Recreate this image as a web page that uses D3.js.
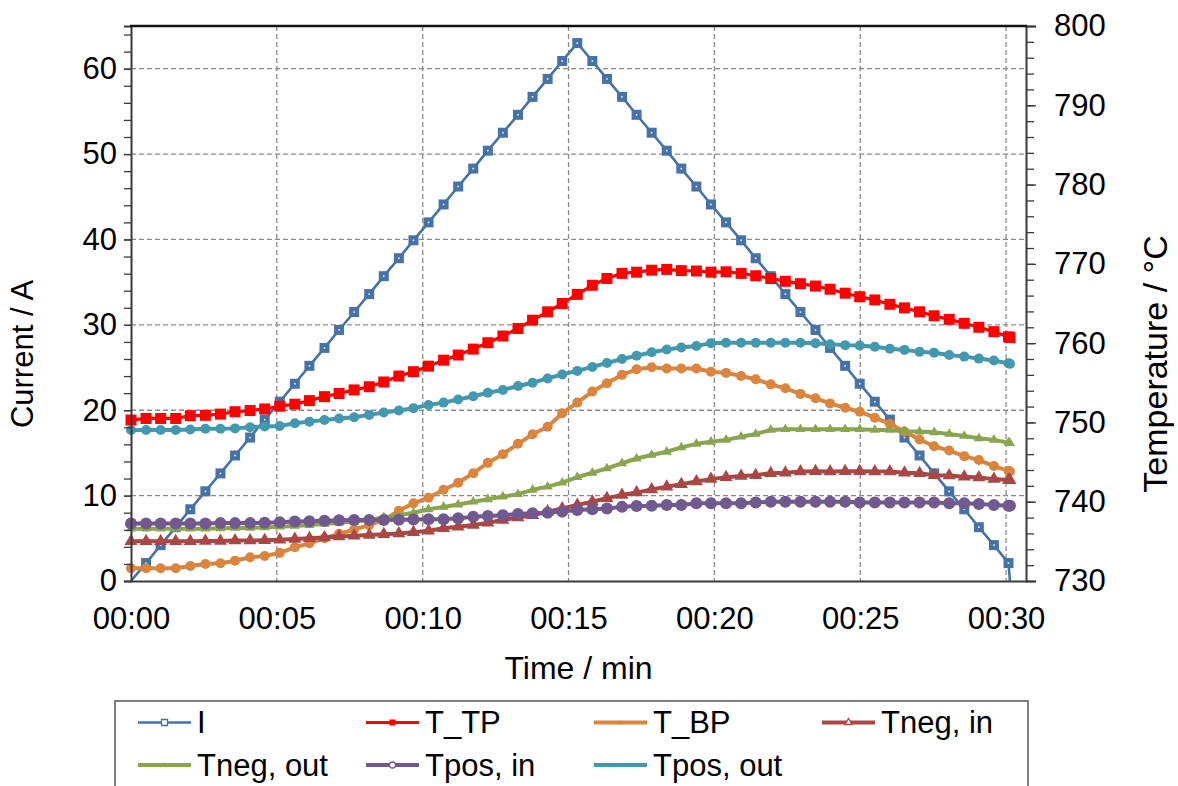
<!DOCTYPE html>
<html>
<head>
<meta charset="utf-8">
<script src="https://cdnjs.cloudflare.com/ajax/libs/d3/7.8.5/d3.min.js"></script>
<style>
  body { margin: 0; background: #fff; }
  svg text { font-family: "Liberation Sans", Arial, sans-serif; fill: #000; }
</style>
</head>
<body>
<div id="chart"></div>
<script>
// sample times in seconds
var timeSec = [0,31,61,92,122,153,184,214,245,275,306,337,367,398,428,459,490,520,551,581,
  612,643,673,704,734,765,796,826,857,887,918,949,979,1010,1040,1071,1102,1132,1163,1193,
  1224,1255,1285,1316,1346,1377,1408,1438,1469,1499,1530,1561,1591,1622,1652,1683,1714,1744,1775,1805,1808]

var current = [0,2.1,4.2,6.3,8.4,10.5,12.6,14.7,16.8,18.9,21.0,23.1,25.2,27.3,29.4,31.5,33.6,35.7,37.8,39.9,
  42.0,44.1,46.2,48.3,50.4,52.5,54.6,56.7,58.8,60.9,63.0,60.9,58.8,56.7,54.6,52.5,50.4,48.3,46.2,44.1,
  42.0,39.9,37.8,35.7,33.6,31.5,29.4,27.3,25.2,23.1,21.0,18.9,16.8,14.7,12.6,10.5,8.4,6.3,4.2,2.1,0]

var tTP = [750.3,750.5,750.5,750.5,750.85,750.9,751.05,751.35,751.5,751.7,752.05,752.3,752.75,753.25,753.65,754.1,754.5,755.1,755.85,756.4,
  757.1,757.85,758.5,759.25,760.05,760.9,761.85,762.9,763.95,765.0,766.15,767.3,768.15,768.8,768.95,769.2,769.3,769.15,769.1,768.95,
  769.0,768.8,768.5,768.15,767.8,767.5,767.2,766.8,766.3,765.85,765.45,764.9,764.45,763.95,763.45,763.0,762.5,762.0,761.45,760.8,760.7]

var tBP = [731.6,731.6,731.6,731.6,731.9,732.15,732.25,732.55,733.0,733.15,733.55,734.25,734.75,735.4,735.95,736.5,737.05,737.7,738.85,739.8,
  740.5,741.5,742.4,743.6,744.9,746.0,747.3,748.5,749.45,751.15,752.5,753.9,754.95,756.0,756.7,756.95,756.8,756.8,756.8,756.4,
  756.25,755.85,755.45,754.8,754.3,753.6,753.05,752.4,751.85,751.35,750.6,749.8,748.85,747.85,747.0,746.45,745.75,745.25,744.5,743.9,743.8]

var tNegIn = [735.0,735.0,735.0,735.0,735.0,735.05,735.05,735.1,735.1,735.15,735.2,735.3,735.4,735.5,735.6,735.7,735.8,735.9,736.0,736.15,
  736.35,736.65,736.85,737.05,737.35,737.7,738.0,738.3,738.75,739.15,739.6,740.0,740.45,740.85,741.15,741.55,741.9,742.2,742.55,742.85,
  743.1,743.25,743.35,743.6,743.65,743.8,743.85,743.8,743.85,743.85,743.8,743.8,743.65,743.6,743.35,743.3,743.15,743.05,742.85,742.75,742.7]

var tNegOut = [736.6,736.6,736.6,736.6,736.6,736.6,736.65,736.7,736.7,736.75,736.85,736.95,737.05,737.2,737.35,737.5,737.7,738.05,738.3,738.6,
  739.05,739.35,739.65,740.0,740.3,740.65,740.95,741.5,741.9,742.4,743.1,743.65,744.2,744.85,745.45,745.9,746.3,746.85,747.3,747.55,
  747.8,748.2,748.55,749.05,749.15,749.15,749.15,749.15,749.15,749.15,749.05,749.05,748.9,748.85,748.75,748.55,748.3,748.0,747.8,747.45,747.4]

var tPosIn = [737.25,737.25,737.25,737.25,737.25,737.25,737.3,737.3,737.3,737.35,737.4,737.5,737.55,737.6,737.65,737.7,737.7,737.7,737.72,737.75,
  737.78,737.8,737.9,738.1,738.2,738.3,738.45,738.55,738.6,738.75,738.95,739.05,739.15,739.35,739.45,739.5,739.6,739.6,739.8,739.8,
  739.8,739.8,739.9,740.0,740.0,740.0,740.0,740.0,740.0,739.9,739.9,739.9,739.9,739.9,739.9,739.8,739.8,739.7,739.6,739.5,739.5]

var tPosOut = [749.05,749.05,749.05,749.05,749.1,749.2,749.2,749.25,749.4,749.5,749.55,749.9,750.1,750.3,750.5,750.65,750.95,751.25,751.5,751.8,
  752.2,752.5,752.9,753.3,753.75,754.1,754.6,755.0,755.55,756.05,756.5,757.0,757.5,758.0,758.4,758.85,759.2,759.45,759.65,760.0,
  760.05,760.05,760.05,760.05,760.05,760.05,760.0,759.85,759.75,759.7,759.55,759.3,759.15,758.9,758.8,758.5,758.3,758.05,757.8,757.45,757.4]

var xTicks = [0, 300, 600, 900, 1200, 1500, 1800]
var leftTicks = [0, 10, 20, 30, 40, 50, 60]
var rightTicks = [730, 740, 750, 760, 770, 780, 790, 800]

var series = [
  {name: 'I', values: current, axis: 'left', color: '#4572A7', width: 2.6, shape: 'square', size: 10},
  {name: 'T_TP', values: tTP, axis: 'right', color: '#FF0000', width: 3.2, shape: 'square', size: 11},
  {name: 'T_BP', values: tBP, axis: 'right', color: '#DB843D', width: 4, shape: 'circle', size: 10},
  {name: 'Tneg, in', values: tNegIn, axis: 'right', color: '#AA4643', width: 4, shape: 'triangle', size: 13},
  {name: 'Tneg, out', values: tNegOut, axis: 'right', color: '#89A54E', width: 4, shape: 'triangle', size: 10},
  {name: 'Tpos, in', values: tPosIn, axis: 'right', color: '#71588F', width: 4, shape: 'circle', size: 12},
  {name: 'Tpos, out', values: tPosOut, axis: 'right', color: '#4198AF', width: 4, shape: 'circle', size: 10}
]

var W = 1178, H = 786
var plot = {left: 131, right: 1026, top: 26, bottom: 581}
var fontSize = '31px'

var svg = d3.select('#chart').append('svg')
  .attr('width', W)
  .attr('height', H)

var x = d3.scaleLinear().domain([0, 1841]).range([plot.left, plot.right])
var yL = d3.scaleLinear().domain([0, 65]).range([plot.bottom, plot.top])
var yR = d3.scaleLinear().domain([730, 800]).range([plot.bottom, plot.top])

function fmtTime(s) {
  var m = Math.round(s / 60)
  return '00:' + (m < 10 ? '0' + m : m)
}

// grid
var grid = svg.append('g').attr('class', 'grid')
  .style('stroke', '#8a8a8a')
  .style('stroke-width', '1.3px')
  .style('stroke-dasharray', '5,3')

grid.selectAll('line.h')
  .data(leftTicks.filter(d => d > 0))
  .enter().append('line')
    .attr('class', 'h')
    .attr('x1', plot.left).attr('x2', plot.right)
    .attr('y1', d => yL(d)).attr('y2', d => yL(d))

grid.selectAll('line.v')
  .data(xTicks.filter(d => d > 0))
  .enter().append('line')
    .attr('class', 'v')
    .attr('x1', d => x(d)).attr('x2', d => x(d))
    .attr('y1', plot.top).attr('y2', plot.bottom)

// lines and markers
function markerPath(shape, size) {
  var type = shape === 'square' ? d3.symbolSquare : shape === 'triangle' ? d3.symbolTriangle : d3.symbolCircle
  var area = shape === 'square' ? size * size : shape === 'triangle' ? Math.sqrt(3) / 4 * size * size : Math.PI * size * size / 4
  return d3.symbol().type(type).size(area)()
}

series.forEach(function(s) {
  var yScale = s.axis === 'left' ? yL : yR
  var pts = timeSec.map((t, i) => [t, s.values[i]])
  var line = d3.line().x(d => x(d[0])).y(d => yScale(d[1]))

  var g = svg.append('g').attr('class', 'series')

  g.append('path')
    .datum(pts)
    .attr('d', line)
    .attr('fill', 'none')
    .attr('stroke', s.color)
    .attr('stroke-width', s.width)
    .attr('stroke-linejoin', 'round')

  var sym = markerPath(s.shape, s.size)
  g.selectAll('path.mk')
    .data(s.axis === 'left' ? pts.filter(d => d[1] > 0) : pts)
    .enter().append('path')
      .attr('class', 'mk')
      .attr('d', sym)
      .attr('transform', d => 'translate(' + x(d[0]) + ',' + yScale(d[1]) + ')')
      .attr('fill', s.color)

  if (s.name === 'I') {
    g.selectAll('rect.dot')
      .data(pts.filter(d => d[1] > 0))
      .enter().append('rect')
        .attr('class', 'dot')
        .attr('x', d => x(d[0]) - 0.8)
        .attr('y', d => yScale(d[1]) - 0.8)
        .attr('width', 1.6).attr('height', 1.6)
        .attr('fill', '#e8eef6')
  }
})

// axes
var axisColor = '#3a3a3a'

var leftAxis = svg.append('g')
  .attr('transform', 'translate(' + plot.left + ',0)')
  .call(d3.axisLeft(yL).tickValues(leftTicks).tickSize(7).tickPadding(7).tickFormat(d3.format('d')))
var leftMinor = svg.append('g')
  .attr('transform', 'translate(' + plot.left + ',0)')
  .call(d3.axisLeft(yL).tickValues(d3.range(0, 65, 2)).tickSize(7).tickFormat(''))

var rightAxis = svg.append('g')
  .attr('transform', 'translate(' + plot.right + ',0)')
  .call(d3.axisRight(yR).tickValues(rightTicks).tickSize(10).tickPadding(18).tickFormat(d3.format('d')))
var rightMinor = svg.append('g')
  .attr('transform', 'translate(' + plot.right + ',0)')
  .call(d3.axisRight(yR).tickValues(d3.range(730, 801, 2)).tickSize(8).tickFormat(''))

var bottomAxis = svg.append('g')
  .attr('transform', 'translate(0,' + plot.bottom + ')')
  .call(d3.axisBottom(x).tickValues(xTicks).tickSize(0).tickPadding(26).tickFormat(fmtTime))

;[leftAxis, leftMinor, rightAxis, rightMinor, bottomAxis].forEach(function(a) {
  a.select('.domain').attr('stroke', axisColor).attr('stroke-width', 2)
  a.selectAll('.tick line').attr('stroke', axisColor).attr('stroke-width', 1.3)
  a.selectAll('.tick text').style('font-size', fontSize).attr('fill', '#000')
    .style('font-family', '"Liberation Sans", Arial, sans-serif')
})
leftMinor.select('.domain').remove()
rightMinor.select('.domain').remove()

// top border
svg.append('line')
  .attr('x1', plot.left - 1).attr('x2', plot.right + 1)
  .attr('y1', plot.top).attr('y2', plot.top)
  .attr('stroke', '#111').attr('stroke-width', 2.5)

// axis titles
svg.append('text')
  .attr('x', (plot.left + plot.right) / 2)
  .attr('y', 679)
  .attr('text-anchor', 'middle')
  .style('font-size', '32px')
  .text('Time / min')

svg.append('text')
  .attr('transform', 'translate(33,354) rotate(-90)')
  .attr('text-anchor', 'middle')
  .style('font-size', fontSize)
  .text('Current / A')

svg.append('text')
  .attr('transform', 'translate(1167,364) rotate(-90)')
  .attr('text-anchor', 'middle')
  .style('font-size', '34px')
  .text('Temperature / °C')

// legend
var legend = svg.append('g').attr('class', 'legend')

legend.append('rect')
  .attr('x', 115).attr('y', 701)
  .attr('width', 913).attr('height', 120)
  .attr('fill', 'white')
  .attr('stroke', '#555').attr('stroke-width', 1.5)

var legendMarks = {
  'I': {shape: 'square', size: 6, hollow: true},
  'T_TP': {shape: 'square', size: 6, hollow: false},
  'T_BP': {shape: 'circle', size: 4, hollow: false},
  'Tneg, in': {shape: 'triangle', size: 7, hollow: true},
  'Tneg, out': {shape: 'triangle', size: 5, hollow: false},
  'Tpos, in': {shape: 'circle', size: 6, hollow: true},
  'Tpos, out': {shape: 'circle', size: 4, hollow: false}
}

series.forEach(function(s, i) {
  var col = i % 4, row = Math.floor(i / 4)
  var lx = 138 + col * 228
  var ly = 722.5 + row * 42.5
  var item = legend.append('g')

  item.append('line')
    .attr('x1', lx).attr('x2', lx + 53)
    .attr('y1', ly).attr('y2', ly)
    .attr('stroke', s.color)
    .attr('stroke-width', s.width)

  var m = legendMarks[s.name]
  item.append('path')
    .attr('d', markerPath(m.shape, m.size))
    .attr('transform', 'translate(' + (lx + 26.5) + ',' + ly + ')')
    .attr('fill', m.hollow ? 'white' : s.color)
    .attr('stroke', s.color)
    .attr('stroke-width', m.hollow ? 1.3 : 0)

  item.append('text')
    .attr('x', lx + 59)
    .attr('y', ly)
    .attr('dy', '0.35em')
    .style('font-size', fontSize)
    .text(s.name)
})
</script>
</body>
</html>
